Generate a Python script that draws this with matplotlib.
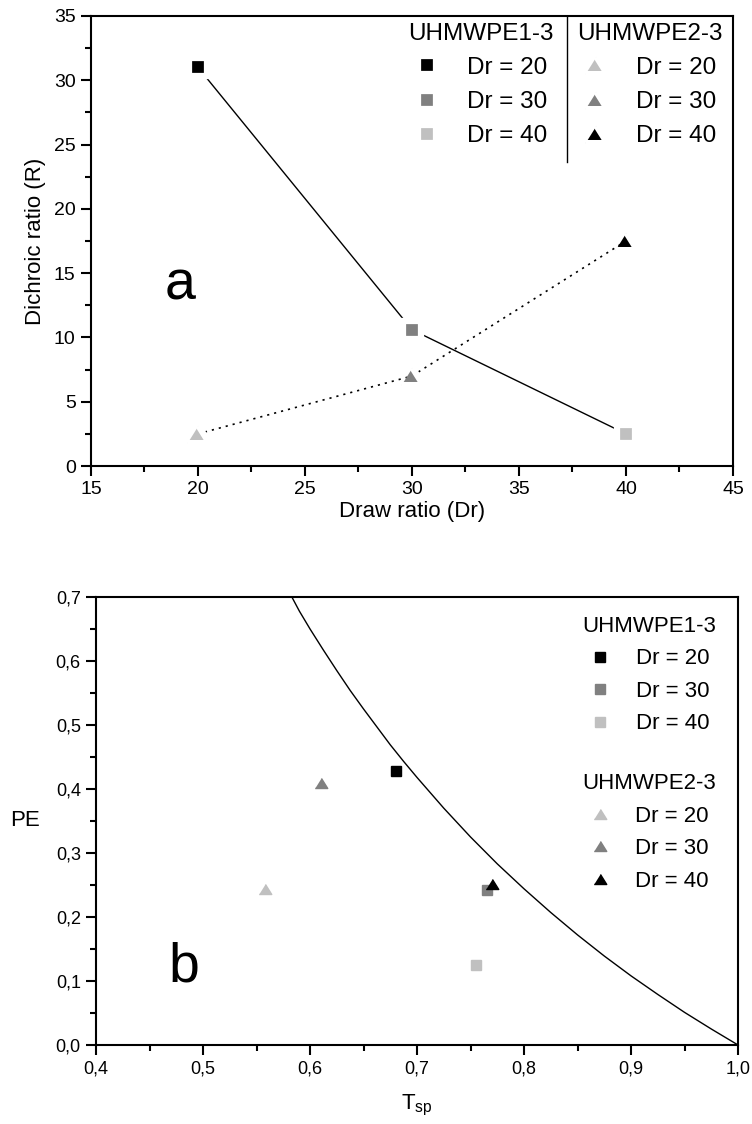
import matplotlib

matplotlib.use("Agg")
import matplotlib.pyplot as plt
from matplotlib.lines import Line2D
from matplotlib.ticker import MultipleLocator, FuncFormatter

plt.rcParams["font.family"] = ["Liberation Sans", "DejaVu Sans"]
plt.rcParams["mathtext.fontset"] = "custom"
plt.rcParams["mathtext.rm"] = "Liberation Sans"

# --- data ---
draw_ratio = [20, 30, 40]
dr_labels = ["Dr = 20", "Dr = 30", "Dr = 40"]

# panel a: dichroic ratio vs draw ratio
r_pe1 = [31.0, 10.6, 2.5]
r_pe2 = [2.5, 7.0, 17.5]

# panel b: PE vs T_sp
tsp_pe1 = [0.680, 0.765, 0.755]
pe_pe1 = [0.428, 0.242, 0.125]
tsp_pe2 = [0.558, 0.610, 0.770]
pe_pe2 = [0.244, 0.409, 0.251]

# reference curve in panel b
curve_tsp = [0.583, 0.590, 0.600, 0.6125, 0.625, 0.6375, 0.650, 0.6625, 0.675,
             0.6875, 0.700, 0.725, 0.750, 0.775, 0.800, 0.825, 0.850, 0.875,
             0.900, 0.925, 0.950, 0.975, 1.000]
curve_pe = [0.700, 0.678, 0.650, 0.617, 0.585, 0.554, 0.525, 0.497, 0.469,
            0.443, 0.418, 0.370, 0.325, 0.283, 0.244, 0.207, 0.172, 0.139,
            0.108, 0.079, 0.051, 0.025, 0.000]

BLACK, GREY, LIGHT = "#000000", "#808080", "#c0c0c0"
shades_pe1 = [BLACK, GREY, LIGHT]
shades_pe2 = [LIGHT, GREY, BLACK]

TRI = [(-1, -0.8), (1, -0.8), (0, 0.8)]


def style_axes(ax, tick_size):
    ax.tick_params(which="both", direction="out", top=False, right=False,
                   width=1.5, labelsize=tick_size)
    ax.tick_params(which="major", length=7, pad=4)
    ax.tick_params(which="minor", length=4)
    for sp in ax.spines.values():
        sp.set_linewidth(1.5)


fig = plt.figure(figsize=(7.52, 11.24), dpi=100)

# ---------------- panel a ----------------
ax1 = fig.add_axes([0.121, 0.5854, 0.8537, 0.4004])
ax1.plot(draw_ratio, r_pe1, color="black", lw=1.0, zorder=1)
ax1.plot(draw_ratio, r_pe2, color="black", lw=1.2, ls=(0, (1.3, 3)), zorder=1)

# white marker edges leave the small gap between line ends and symbols
h1, h2 = [], []
for x, y, c, lab in zip(draw_ratio, r_pe1, shades_pe1, dr_labels):
    h1.append(ax1.plot(x, y, ls="none", marker="s", ms=12.5, mfc=c, mec="white",
                       mew=4.5, label=lab, zorder=3)[0])
for x, y, c, lab in zip(draw_ratio, r_pe2, shades_pe2, dr_labels):
    h2.append(ax1.plot(x, y, ls="none", marker=TRI, ms=15.5, mfc=c, mec="white",
                       mew=4.5, label=lab, zorder=3)[0])

ax1.set_xlim(15, 45)
ax1.set_ylim(0, 35)
ax1.xaxis.set_major_locator(MultipleLocator(5))
ax1.xaxis.set_minor_locator(MultipleLocator(2.5))
ax1.yaxis.set_major_locator(MultipleLocator(5))
ax1.yaxis.set_minor_locator(MultipleLocator(2.5))
style_axes(ax1, 14)
ax1.set_xlabel("Draw ratio (Dr)", fontsize=16, labelpad=2)
ax1.set_ylabel("Dichroic ratio (R)", fontsize=16, labelpad=6)
ax1.text(0.115, 0.40, "a", transform=ax1.transAxes, fontsize=40,
         ha="left", va="center")

leg_kw = dict(frameon=False, fontsize=17.5, title_fontsize=17.5, handlelength=1.0,
              handletextpad=1.15, labelspacing=0.5, borderpad=0, borderaxespad=0,
              loc="upper left")
lg1 = ax1.legend(handles=h1, title="UHMWPE1-3", bbox_to_anchor=(0.494, 0.985),
                 **leg_kw)
ax1.add_artist(lg1)
ax1.legend(handles=h2, title="UHMWPE2-3", bbox_to_anchor=(0.757, 0.985), **leg_kw)
ax1.add_line(Line2D([0.741, 0.741], [0.676, 1.0], transform=ax1.transAxes,
                    color="black", lw=1.0))

# ---------------- panel b ----------------
ax2 = fig.add_axes([0.1277, 0.0703, 0.8537, 0.3986])
ax2.plot(curve_tsp, curve_pe, color="black", lw=1.0, zorder=1)

g1, g2 = [], []
for x, y, c, lab in zip(tsp_pe1, pe_pe1, shades_pe1, dr_labels):
    g1.append(ax2.plot(x, y, ls="none", marker="s", ms=7, mfc=c, mec=c,
                       label=lab, zorder=3)[0])
for x, y, c, lab in zip(tsp_pe2, pe_pe2, shades_pe2, dr_labels):
    g2.append(ax2.plot(x, y, ls="none", marker=TRI, ms=9, mfc=c, mec=c,
                       label=lab, zorder=4)[0])

ax2.set_xlim(0.4, 1.0)
ax2.set_ylim(0, 0.7)
ax2.xaxis.set_major_locator(MultipleLocator(0.1))
ax2.xaxis.set_minor_locator(MultipleLocator(0.05))
ax2.yaxis.set_major_locator(MultipleLocator(0.1))
ax2.yaxis.set_minor_locator(MultipleLocator(0.05))
comma = FuncFormatter(lambda v, p: f"{v:.1f}".replace(".", ","))
ax2.xaxis.set_major_formatter(comma)
ax2.yaxis.set_major_formatter(comma)
style_axes(ax2, 13)
ax2.set_xlabel(r"T$_{\mathregular{sp}}$", fontsize=16, labelpad=11)
ax2.set_ylabel("PE", fontsize=16, rotation=0, labelpad=22, va="center")
ax2.text(0.112, 0.174, "b", transform=ax2.transAxes, fontsize=40,
         ha="left", va="center")

leg_kw2 = dict(leg_kw, fontsize=16, title_fontsize=16, handletextpad=1.1,
               labelspacing=0.52)
lg3 = ax2.legend(handles=g1, title="UHMWPE1-3", bbox_to_anchor=(0.757, 0.958),
                 **leg_kw2)
ax2.add_artist(lg3)
ax2.legend(handles=g2, title="UHMWPE2-3", bbox_to_anchor=(0.757, 0.607), **leg_kw2)

fig.savefig("out.png", dpi=100)
